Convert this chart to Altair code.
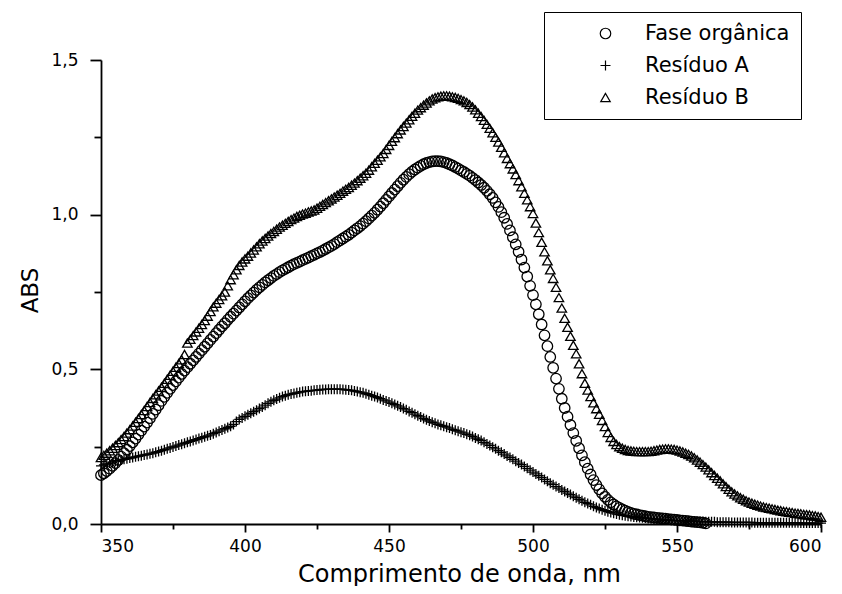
import altair as alt
import pandas as pd

series_names = ["Fase orgânica", "Resíduo A", "Resíduo B"]

nm_fase = list(range(350, 561))
abs_fase = [
    0.158, 0.164, 0.171, 0.179, 0.188, 0.197, 0.207, 0.218, 0.229, 0.240,
    0.252, 0.264, 0.276, 0.289, 0.302, 0.315, 0.328, 0.342, 0.356, 0.370,
    0.384, 0.398, 0.411, 0.424, 0.437, 0.449, 0.461, 0.473, 0.485, 0.496,
    0.507, 0.518, 0.529, 0.540, 0.551, 0.562, 0.573, 0.584, 0.595, 0.606,
    0.617, 0.628, 0.639, 0.649, 0.660, 0.670, 0.680, 0.690, 0.700, 0.710,
    0.720, 0.730, 0.739, 0.748, 0.757, 0.765, 0.773, 0.781, 0.788, 0.795,
    0.802, 0.808, 0.814, 0.820, 0.825, 0.830, 0.835, 0.840, 0.844, 0.848,
    0.853, 0.857, 0.861, 0.866, 0.870, 0.875, 0.879, 0.884, 0.889, 0.894,
    0.899, 0.905, 0.911, 0.917, 0.923, 0.929, 0.935, 0.942, 0.949, 0.956,
    0.963, 0.971, 0.979, 0.988, 0.997, 1.006, 1.016, 1.026, 1.037, 1.048,
    1.059, 1.070, 1.081, 1.092, 1.103, 1.113, 1.122, 1.131, 1.139, 1.146,
    1.152, 1.158, 1.163, 1.167, 1.170, 1.172, 1.173, 1.173, 1.172, 1.170,
    1.167, 1.163, 1.159, 1.154, 1.149, 1.143, 1.138, 1.132, 1.126, 1.119,
    1.112, 1.104, 1.096, 1.087, 1.077, 1.066, 1.054, 1.040, 1.025, 1.008,
    0.990, 0.970, 0.949, 0.927, 0.904, 0.880, 0.855, 0.829, 0.800, 0.770,
    0.740, 0.710, 0.678, 0.645, 0.610, 0.575, 0.540, 0.505, 0.470, 0.437,
    0.405, 0.375, 0.347, 0.320, 0.294, 0.269, 0.245, 0.222, 0.200, 0.179,
    0.160, 0.142, 0.126, 0.112, 0.099, 0.088, 0.078, 0.070, 0.063, 0.057,
    0.052, 0.047, 0.043, 0.039, 0.036, 0.033, 0.031, 0.029, 0.027, 0.025,
    0.023, 0.022, 0.021, 0.020, 0.019, 0.018, 0.017, 0.016, 0.015, 0.014,
    0.013, 0.012, 0.011, 0.010, 0.009, 0.008, 0.007, 0.006, 0.005, 0.004,
    0.002,
]

nm_res = list(range(350, 601))
abs_res_a = [
    0.188, 0.191, 0.194, 0.197, 0.200, 0.203, 0.205, 0.207, 0.209, 0.211,
    0.213, 0.215, 0.217, 0.219, 0.221, 0.223, 0.225, 0.227, 0.229, 0.232,
    0.234, 0.237, 0.240, 0.243, 0.246, 0.249, 0.252, 0.255, 0.258, 0.261,
    0.264, 0.267, 0.270, 0.273, 0.276, 0.279, 0.282, 0.285, 0.288, 0.292,
    0.296, 0.300, 0.304, 0.308, 0.312, 0.316, 0.322, 0.331, 0.338, 0.343,
    0.348, 0.353, 0.358, 0.363, 0.368, 0.373, 0.378, 0.384, 0.390, 0.395,
    0.400, 0.404, 0.408, 0.412, 0.415, 0.418, 0.420, 0.422, 0.424, 0.426,
    0.428, 0.429, 0.430, 0.431, 0.432, 0.433, 0.434, 0.435, 0.435, 0.436,
    0.436, 0.436, 0.436, 0.436, 0.435, 0.434, 0.433, 0.432, 0.430, 0.428,
    0.426, 0.424, 0.421, 0.418, 0.415, 0.412, 0.409, 0.405, 0.401, 0.398,
    0.394, 0.390, 0.386, 0.382, 0.378, 0.373, 0.369, 0.364, 0.360, 0.355,
    0.350, 0.346, 0.341, 0.337, 0.333, 0.329, 0.326, 0.322, 0.319, 0.316,
    0.313, 0.310, 0.306, 0.303, 0.300, 0.297, 0.294, 0.290, 0.287, 0.283,
    0.278, 0.274, 0.270, 0.264, 0.259, 0.254, 0.248, 0.243, 0.237, 0.232,
    0.226, 0.220, 0.215, 0.209, 0.203, 0.197, 0.192, 0.186, 0.180, 0.174,
    0.168, 0.162, 0.156, 0.150, 0.144, 0.138, 0.132, 0.127, 0.121, 0.116,
    0.110, 0.105, 0.100, 0.095, 0.090, 0.085, 0.080, 0.075, 0.070, 0.066,
    0.062, 0.057, 0.053, 0.050, 0.046, 0.043, 0.040, 0.037, 0.035, 0.032,
    0.030, 0.028, 0.027, 0.025, 0.024, 0.023, 0.022, 0.021, 0.020, 0.019,
    0.018, 0.017, 0.016, 0.016, 0.015, 0.014, 0.013, 0.013, 0.012, 0.012,
    0.011, 0.011, 0.010, 0.010, 0.009, 0.009, 0.009, 0.008, 0.008, 0.008,
    0.007, 0.007, 0.007, 0.007, 0.006, 0.006, 0.006, 0.006, 0.006, 0.005,
    0.005, 0.005, 0.005, 0.005, 0.005, 0.005, 0.005, 0.004, 0.004, 0.004,
    0.004, 0.004, 0.004, 0.004, 0.004, 0.004, 0.004, 0.004, 0.004, 0.004,
    0.004, 0.004, 0.004, 0.003, 0.003, 0.003, 0.003, 0.003, 0.003, 0.003,
    0.003,
]
abs_res_b = [
    0.215, 0.222, 0.229, 0.237, 0.245, 0.254, 0.263, 0.273, 0.283, 0.294,
    0.305, 0.317, 0.329, 0.341, 0.354, 0.367, 0.380, 0.393, 0.406, 0.418,
    0.430, 0.442, 0.455, 0.468, 0.481, 0.494, 0.507, 0.519, 0.531, 0.548,
    0.585, 0.597, 0.609, 0.621, 0.633, 0.645, 0.658, 0.672, 0.687, 0.702,
    0.714, 0.726, 0.738, 0.750, 0.770, 0.790, 0.806, 0.822, 0.836, 0.847,
    0.857, 0.866, 0.876, 0.886, 0.896, 0.906, 0.915, 0.923, 0.931, 0.939,
    0.946, 0.953, 0.960, 0.966, 0.972, 0.978, 0.984, 0.989, 0.994, 0.998,
    1.002, 1.005, 1.009, 1.012, 1.015, 1.021, 1.027, 1.033, 1.039, 1.045,
    1.051, 1.057, 1.063, 1.069, 1.076, 1.082, 1.088, 1.095, 1.102, 1.110,
    1.118, 1.126, 1.134, 1.144, 1.155, 1.166, 1.176, 1.187, 1.198, 1.211,
    1.224, 1.237, 1.249, 1.262, 1.274, 1.285, 1.296, 1.307, 1.318, 1.328,
    1.338, 1.346, 1.354, 1.361, 1.368, 1.374, 1.378, 1.381, 1.383, 1.384,
    1.384, 1.383, 1.381, 1.379, 1.376, 1.372, 1.368, 1.363, 1.356, 1.348,
    1.339, 1.328, 1.317, 1.305, 1.292, 1.279, 1.265, 1.250, 1.235, 1.218,
    1.200, 1.182, 1.165, 1.148, 1.130, 1.110, 1.090, 1.069, 1.048, 1.026,
    1.004, 0.973, 0.942, 0.911, 0.880, 0.851, 0.822, 0.794, 0.765, 0.732,
    0.698, 0.665, 0.636, 0.607, 0.578, 0.550, 0.518, 0.486, 0.455, 0.433,
    0.412, 0.392, 0.373, 0.355, 0.335, 0.315, 0.296, 0.280, 0.267, 0.257,
    0.250, 0.245, 0.241, 0.238, 0.236, 0.235, 0.234, 0.234, 0.234, 0.234,
    0.234, 0.235, 0.237, 0.239, 0.241, 0.242, 0.243, 0.243, 0.242, 0.241,
    0.239, 0.236, 0.233, 0.229, 0.225, 0.220, 0.214, 0.207, 0.200, 0.192,
    0.184, 0.175, 0.166, 0.157, 0.148, 0.139, 0.130, 0.121, 0.112, 0.104,
    0.097, 0.091, 0.085, 0.080, 0.075, 0.071, 0.067, 0.064, 0.061, 0.058,
    0.055, 0.053, 0.051, 0.049, 0.047, 0.045, 0.043, 0.041, 0.040, 0.038,
    0.037, 0.035, 0.034, 0.033, 0.031, 0.030, 0.029, 0.027, 0.026, 0.024,
    0.022,
]

x_major = [350, 400, 450, 500, 550, 600]
x_minor = [375, 425, 475, 525, 575]
y_major = [0.0, 0.5, 1.0, 1.5]
y_minor = [0.25, 0.75, 1.25]

rows = []
for nm, v in zip(nm_fase, abs_fase):
    rows.append({"nm": nm, "abs": v, "amostra": series_names[0]})
for nm, v in zip(nm_res, abs_res_a):
    rows.append({"nm": nm, "abs": v, "amostra": series_names[1]})
for nm, v in zip(nm_res, abs_res_b):
    rows.append({"nm": nm, "abs": v, "amostra": series_names[2]})
df = pd.DataFrame(rows)

FONT = "DejaVu Sans"
x_scale = alt.Scale(domain=[350, 600], nice=False, zero=False)
y_scale = alt.Scale(domain=[0, 1.5], nice=False)

shape_scale = alt.Scale(domain=series_names,
                        range=["circle", "M-1,0L1,0M0,-1L0,1", "triangle-up"])
size_scale = alt.Scale(domain=series_names, range=[110, 90, 170])

legend = alt.Legend(
    orient="none", legendX=443, legendY=-48, title=None,
    strokeColor="black", fillColor="white", padding=11,
    labelFont=FONT, labelFontSize=21, labelColor="black", labelLimit=400,
    symbolOffset=40, labelOffset=29, rowPadding=10,
    symbolStrokeColor="black", symbolStrokeWidth=1.2,
)

x_axis = alt.Axis(
    orient="bottom", values=x_major, format="d", grid=False,
    tickSize=8, tickWidth=1.8, tickColor="black",
    domainWidth=1.8, domainColor="black",
    labelFont=FONT, labelFontSize=17, labelColor="black", labelPadding=6,
    title="Comprimento de onda, nm", titleFont=FONT, titleFontSize=24,
    titleFontWeight="normal", titleColor="black",
    titleX=358, titleY=57, titleBaseline="alphabetic",
)
y_axis = alt.Axis(
    orient="left", values=y_major, grid=False,
    labelExpr="replace(format(datum.value, '.1f'), '.', ',')",
    tickSize=11, tickWidth=1.8, tickColor="black",
    domainWidth=1.8, domainColor="black",
    labelFont=FONT, labelFontSize=17, labelColor="black", labelPadding=12,
    title="ABS", titleFont=FONT, titleFontSize=23, titleFontWeight="normal",
    titleColor="black", titleX=-64, titleY=230, titleBaseline="alphabetic",
)

points = alt.Chart(df).mark_point(
    filled=False, color="black", strokeWidth=1.3, opacity=1
).encode(
    x=alt.X("nm:Q", scale=x_scale, axis=x_axis),
    y=alt.Y("abs:Q", scale=y_scale, axis=y_axis),
    shape=alt.Shape("amostra:N", scale=shape_scale, legend=legend),
    size=alt.Size("amostra:N", scale=size_scale, legend=legend),
)

minor = alt.Chart(df).mark_point(opacity=0).encode(
    x=alt.X("nm:Q", scale=x_scale, axis=alt.Axis(
        orient="bottom", values=x_minor, labels=False, domain=False, grid=False,
        tickSize=5, tickWidth=1.8, tickColor="black", title=None)),
    y=alt.Y("abs:Q", scale=y_scale, axis=alt.Axis(
        orient="left", values=y_minor, labels=False, domain=False, grid=False,
        tickSize=7, tickWidth=1.8, tickColor="black", title=None)),
)

chart = alt.layer(points, minor).resolve_axis(
    x="independent", y="independent"
).properties(
    width=720, height=464,
    padding={"left": 93, "top": 52, "right": 13, "bottom": 62},
    autosize=alt.AutoSizeParams(type="none"),
).configure_view(stroke=None)

chart.save("out.html", embed_options={"renderer": "svg", "actions": False})
